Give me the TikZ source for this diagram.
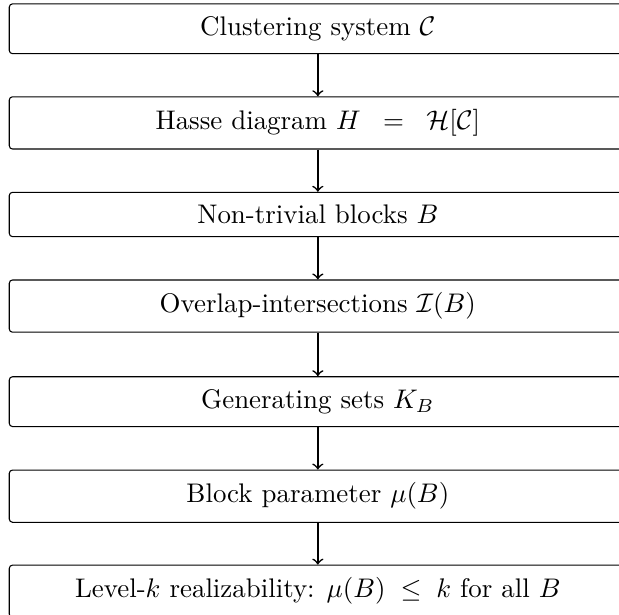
\documentclass[tikz,border=0pt]{standalone}
\begin{document}
\begin{tikzpicture}[
  stage/.style={draw, rounded corners=1.2pt, minimum width=240pt, inner ysep=4.7pt,
    anchor=north, xshift=5.35pt, execute at begin node={\hspace*{-10.7pt}}},
  flow/.style={->, >=to, semithick}
]
\useasboundingbox (0,0) rectangle (230pt,-228.5pt);
\node[stage] (c1) at (118.1pt,-1.23pt)   {Clustering system $\mathcal{C}$};
\node[stage] (c2) at (118.1pt,-35.76pt)  {Hasse diagram $H \;\;=\;\; \mathcal{H}[\mathcal{C}]$};
\node[stage] (c3) at (118.1pt,-71.26pt)  {Non-trivial blocks $B$};
\node[stage] (c4) at (118.1pt,-103.83pt) {Overlap-intersections $\mathcal{I}(B)$};
\node[stage] (c5) at (118.1pt,-139.78pt) {Generating sets $K_B$};
\node[stage] (c6) at (118.1pt,-174.46pt) {Block parameter $\mu(B)$};
\node[stage] (c7) at (118.1pt,-209.78pt) {Level-$k$ realizability: $\mu(B) \;\leq\; k$ for all $B$};
\draw[flow] (c1.south -| 118.1pt,0) -- (c2.north -| 118.1pt,0);
\draw[flow] (c2.south -| 118.1pt,0) -- (c3.north -| 118.1pt,0);
\draw[flow] (c3.south -| 118.1pt,0) -- (c4.north -| 118.1pt,0);
\draw[flow] (c4.south -| 118.1pt,0) -- (c5.north -| 118.1pt,0);
\draw[flow] (c5.south -| 118.1pt,0) -- (c6.north -| 118.1pt,0);
\draw[flow] (c6.south -| 118.1pt,0) -- (c7.north -| 118.1pt,0);
\end{tikzpicture}
\end{document}
